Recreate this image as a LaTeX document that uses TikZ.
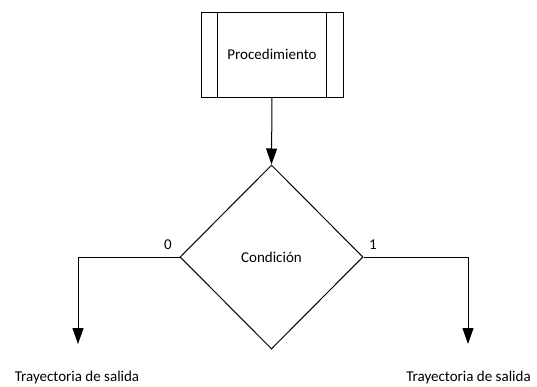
\documentclass[tikz,border=0pt]{standalone}
\usepackage{fontspec}
\setmainfont{Carlito}
\usetikzlibrary{arrows.meta,shapes.geometric}
\begin{document}
\begin{tikzpicture}[x=1pt,y=-1pt,
  line/.style={draw=black,line width=1pt},
  flow/.style={line,-{Triangle[width=11pt,length=16pt]}},
  txt/.style={font=\fontsize{15}{17}\selectfont},
  procbox/.style={line,txt,rectangle,minimum width=142pt,minimum height=85pt,inner sep=0pt},
  decision/.style={line,txt,diamond,minimum width=183pt,minimum height=184pt,inner sep=0pt},
  lbl/.style={txt,inner sep=0pt}]
\useasboundingbox (0,0) rectangle (537,386);
% predefined process box with its two side bars
\node[procbox] (proc) at (272,54.5) {Procedimiento};
\draw[line] ([xshift=17pt]proc.north west) -- ([xshift=17pt]proc.south west);
\draw[line] ([xshift=-17pt]proc.north east) -- ([xshift=-17pt]proc.south east);
% decision
\node[decision] (cond) at (271.5,257) {Condición};
\draw[flow] (proc.south) -- (cond.north);
% exits
\coordinate (l) at (78,344);
\coordinate (r) at (468,344);
\draw[flow] (cond.west) -| (l);
\draw[flow] (cond.east) -| (r);
\node[lbl] (zero) at (168,245) {0};
\node[lbl] (one) at (373,245) {1};
\node[lbl] (outl) at (77,377) {Trayectoria de salida};
\node[lbl] (outr) at (468.5,377) {Trayectoria de salida};
\end{tikzpicture}
\end{document}
